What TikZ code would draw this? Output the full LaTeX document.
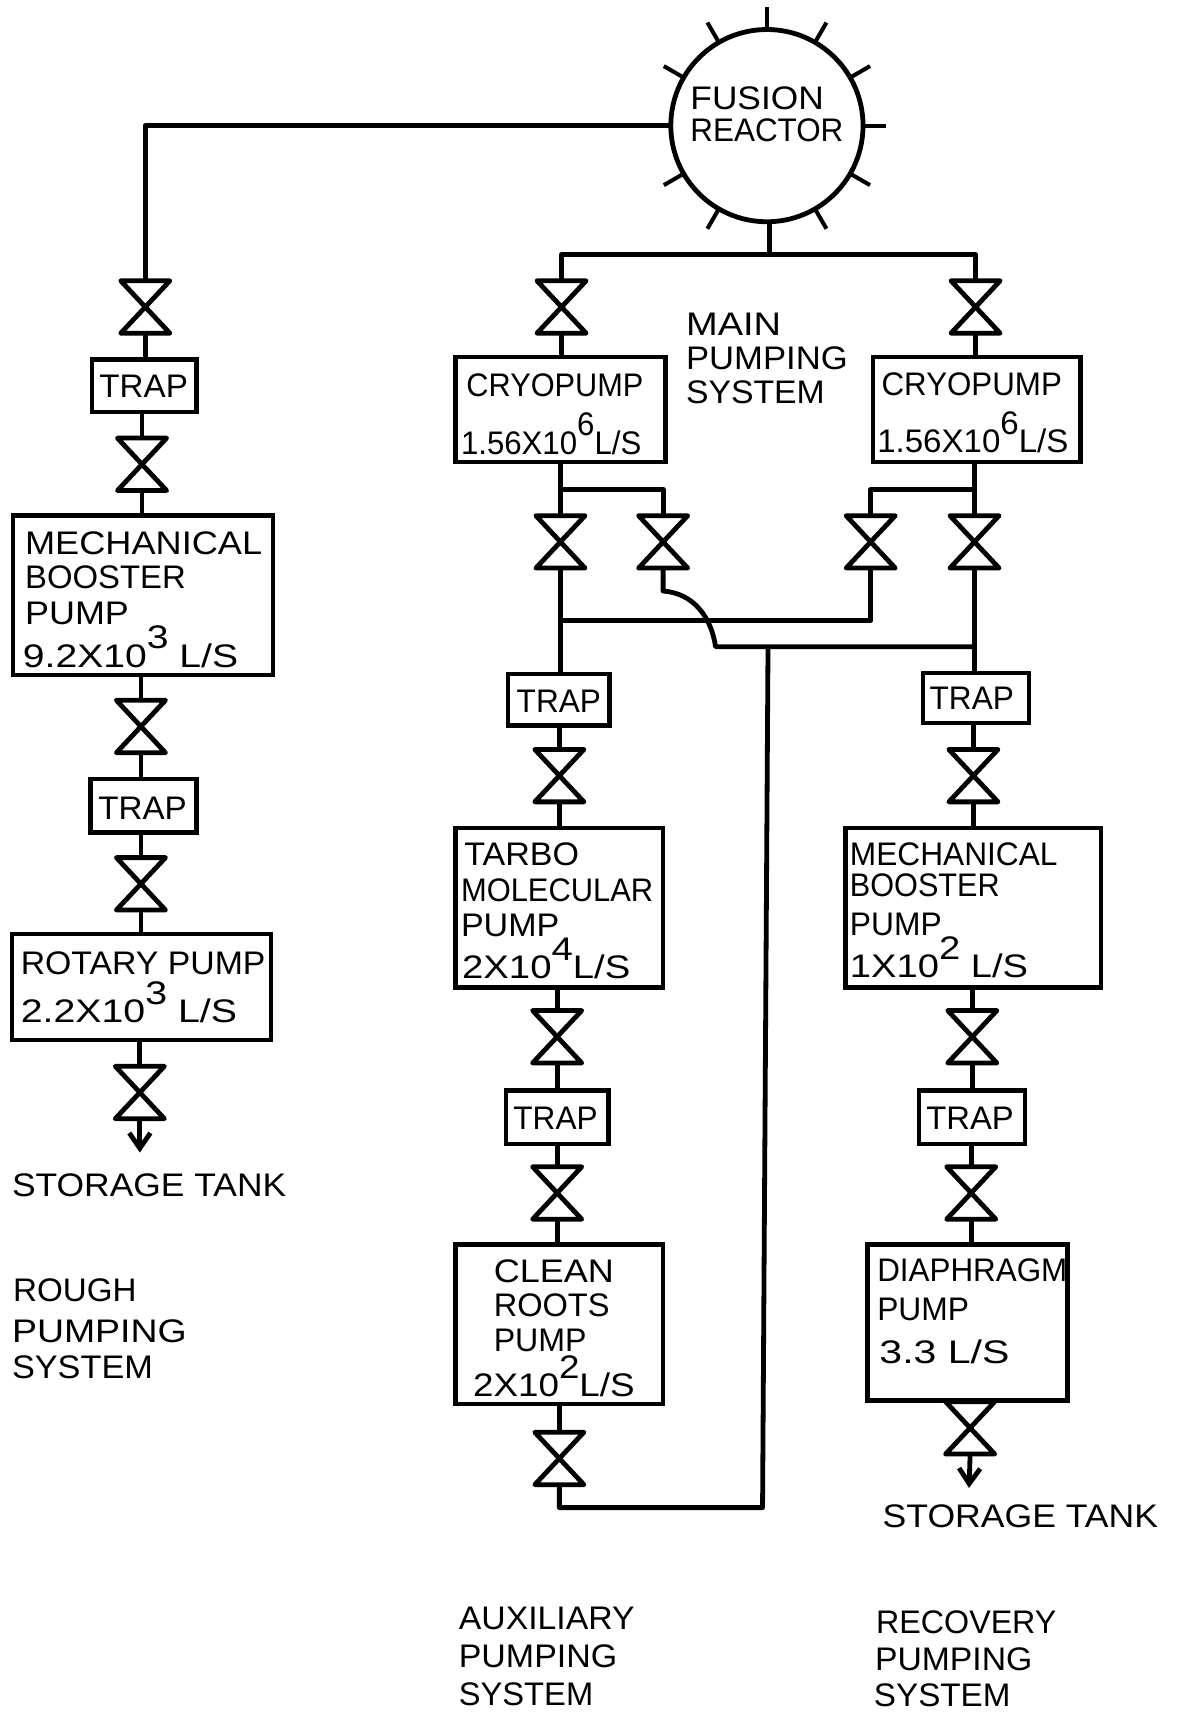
\documentclass[tikz,border=0pt]{standalone}
\usepackage{fontspec}
\usepackage{graphicx}
\setmainfont{Liberation Sans}
\usetikzlibrary{arrows.meta}
\newdimen\un \un=0.02cm
\newcommand\tl[3]{\hspace*{#1\un}\resizebox{#2\un}{\height}{#3}}
\newcommand\ex[1]{\smash{\raisebox{9.5pt}{#1}}}
\tikzset{
  x=0.02cm,y=-0.02cm,
  pipe/.style={line width=2.5pt,line join=round},
  pumpbox/.style={draw,line width=2.3pt,inner xsep=0pt,inner ysep=0pt,outer sep=0pt,font=\fontsize{17}{17.6}\selectfont},
  valve/.style={minimum width=0.9cm,minimum height=0.96cm,inner sep=0pt,outer sep=0pt,
    append after command={\pgfextra{\draw[line width=2.5pt,line join=round]
      (\tikzlastnode.north west)--(\tikzlastnode.south east)--(\tikzlastnode.south west)--(\tikzlastnode.north east)--cycle;}}},
  caption/.style={anchor=west,inner sep=0pt,outer sep=0pt,align=left,font=\fontsize{17}{17.6}\selectfont},
  barb/.style={-{Straight Barb[length=8pt,width=11pt,line width=2.5pt]}},
}
\newcommand\pbox[7][0]{%
  \pgfmathsetmacro\bw{(#5-#3)*0.02}\pgfmathsetmacro\bh{(#6-#4)*0.02}%
  \node[pumpbox,minimum width=\bw cm,minimum height=\bh cm] (#2) at ({(#3+#5)/2},{(#4+#6)/2})
   {\parbox{\bw cm}{\raggedright\vspace*{\the\numexpr6+#1\relax\un}#7\par\vspace*{\the\numexpr6-#1\relax\un}}};}
\newcommand\dn[2]{\draw[pipe] (#1.south) -- (#1.south |- #2.north);}
\newcommand\up[2]{\draw[pipe] (#1.north) -- (#1.north |- #2.south);}
\begin{document}
\begin{tikzpicture}
\fill[white] (0,0) rectangle (1079,1568);
\useasboundingbox (0,0) rectangle (1079,1568);

% reactor
\node[circle,draw,line width=2.5pt,minimum size=3.52cm,inner sep=0pt,outer sep=0pt,align=left,font=\fontsize{17}{17.6}\selectfont] (reactor) at (702,115)
 {\tl{0}{122}{FUSION}\\[-1.1pt] \tl{0}{140}{REACTOR}\\[-5.7pt] \mbox{}};
\foreach \a in {90,60,30,0,-30,-60,-120,-150,150,120}
  \draw[line width=2.1pt] (reactor.\a) -- ++(-\a:21);

% rough pumping column
\node[valve] (v1) at (133,281) {};
\pbox[1]{t1}{84}{329}{180}{377}{\tl{7}{81}{TRAP}}
\node[valve] (v2) at (130,425) {};
\pbox[4]{b1}{12}{472}{250}{618}{\tl{11}{217}{MECHANICAL}\\ \tl{11}{147}{BOOSTER}\\[1.1pt] \tl{11}{95}{PUMP}\\[4.5pt] \tl{9}{197}{9.2X10\ex{3} L/S}}
\node[valve] (v3) at (129,665) {};
\pbox[2]{t2}{83}{713}{180}{762}{\tl{7}{81}{TRAP}}
\node[valve] (v4) at (129,809) {};
\pbox{b2}{11}{855}{248}{952}{\tl{8}{224}{ROTARY PUMP}\\[7.4pt] \tl{8}{198}{2.2X10\ex{3} L/S}}
\node[valve] (v5) at (128,1000) {};
\coordinate (a1) at (128,1055);
\node[caption] (c1) at (11,1085) {\resizebox{251\un}{\height}{STORAGE TANK}};
\node[caption] (c2) at (11,1216) {\tl{1}{113}{ROUGH}\\[4pt] \tl{0}{160}{PUMPING}\\[1.1pt] \tl{0}{129}{SYSTEM}};

\draw[pipe] (reactor.west) -| (v1.north);
\dn{v1}{t1}\up{v2}{t1}\dn{v2}{b1}\up{v3}{b1}\dn{v3}{t2}\up{v4}{t2}\dn{v4}{b2}\up{v5}{b2}
\draw[pipe,barb] (v5.south) -- (a1);

% main pumping
\coordinate (top) at (704,233);
\node[valve] (v6) at (514,281) {};
\node[valve] (v7) at (893,281) {};
\pbox[4]{cl}{417}{327}{609}{423}{\tl{10}{162}{CRYOPUMP}\\[12.5pt] \tl{5}{165}{1.56X10\ex{6}L/S}}
\pbox[3]{cr}{799}{327}{989}{423}{\tl{8}{165}{CRYOPUMP}\\[12pt] \tl{4}{175}{1.56X10\ex{6}L/S}}
\node[caption] (c3) at (628,328) {\resizebox{87\un}{\height}{MAIN}\\ \resizebox{148\un}{\height}{PUMPING}\\ \resizebox{127\un}{\height}{SYSTEM}};
\draw[pipe] (top |- reactor.south) -- (top);
\draw[pipe] (v6.north) |- (top) -| (v7.north);
\dn{v6}{cl}\dn{v7}{cr}

\node[valve] (v8) at (513,496) {};
\node[valve] (v9) at (607,496) {};
\node[valve] (v10) at (797,496) {};
\node[valve] (v11) at (892,496) {};
\up{v8}{cl}\up{v11}{cr}
\coordinate (jl) at (513,448);
\coordinate (jr) at (892,448);
\draw[pipe] (jl) -| (v9.north);
\draw[pipe] (jr) -| (v10.north);

\pbox[1]{t3}{465}{617}{558}{664}{\tl{8}{77}{TRAP}}
\pbox{t4}{845}{616}{942}{662}{\tl{6}{77}{TRAP}}
\dn{v8}{t3}\dn{v11}{t4}
\coordinate (jm) at (513,568);
\draw[pipe] (jm) -| (v10.south);
\coordinate (bend) at (655,592);
\coordinate (jn) at (892,592);
\draw[pipe] (v9.south) -- (607,541) .. controls (635,543) and (651,565) .. (bend) -- (jn);

% auxiliary column
\node[valve] (v12) at (512,710) {};
\pbox[3]{b3}{417}{758}{607}{904}{\tl{8}{105}{TARBO}\\[1.1pt] \tl{5}{176}{MOLECULAR}\\[.6pt] \tl{5}{90}{PUMP}\\[4.5pt] \tl{6}{154}{2X10\ex{4}L/S}}
\node[valve] (v13) at (510,949) {};
\pbox[1]{t5}{463}{998}{557}{1047}{\tl{7}{77}{TRAP}}
\node[valve] (v14) at (510,1092) {};
\pbox[4]{b4}{417}{1139}{607}{1285}{\tl{35}{110}{CLEAN}\\ \tl{35}{106}{ROOTS}\\[.6pt] \tl{35}{85}{PUMP}\\[5.7pt] \tl{16}{148}{2X10\ex{2}L/S}}
\node[valve] (v15) at (512,1335) {};
\up{v12}{t3}\dn{v12}{b3}\up{v13}{b3}\dn{v13}{t5}\up{v14}{t5}\dn{v14}{b4}\up{v15}{b4}
\coordinate (ret) at (698,1380);
\coordinate (retb) at (703,592);
\draw[pipe] (v15.south) |- (ret) -- (retb);
\node[caption] (c4) at (420,1516) {\resizebox{161\un}{\height}{AUXILIARY}\\[2.3pt] \resizebox{145\un}{\height}{PUMPING}\\[2.3pt] \resizebox{123\un}{\height}{SYSTEM}};

% recovery column
\node[valve] (v16) at (891,710) {};
\pbox[2]{b5}{774}{758}{1008}{904}{\tl{4}{190}{MECHANICAL}\\[-1.1pt] \tl{4}{137}{BOOSTER}\\[2.3pt] \tl{4}{84}{PUMP}\\[4.5pt] \tl{4}{163}{1X10\ex{2} L/S}}
\node[valve] (v17) at (890,949) {};
\pbox[1]{t6}{841}{998}{938}{1047}{\tl{7}{80}{TRAP}}
\node[valve] (v18) at (889,1092) {};
\pbox[-10]{b6}{794}{1139}{977}{1282}{\tl{9}{174}{DIAPHRAGM}\\[2.3pt] \tl{9}{84}{PUMP}\\[5.1pt] \tl{11}{119}{3.3 L/S}}
\node[valve] (v19) at (888,1307) {};
\coordinate (a2) at (887,1362);
\up{v16}{t4}\dn{v16}{b5}\up{v17}{b5}\dn{v17}{t6}\up{v18}{t6}\dn{v18}{b6}\up{v19}{b6}
\draw[pipe,barb] (v19.south) -- (a2);
\node[caption] (c5) at (808,1388) {\resizebox{252\un}{\height}{STORAGE TANK}};
\node[caption] (c6) at (800,1518) {\tl{2}{165}{RECOVERY}\\[1.7pt] \tl{1}{144}{PUMPING}\\[1.1pt] \tl{0}{125}{SYSTEM}};
\end{tikzpicture}
\end{document}
